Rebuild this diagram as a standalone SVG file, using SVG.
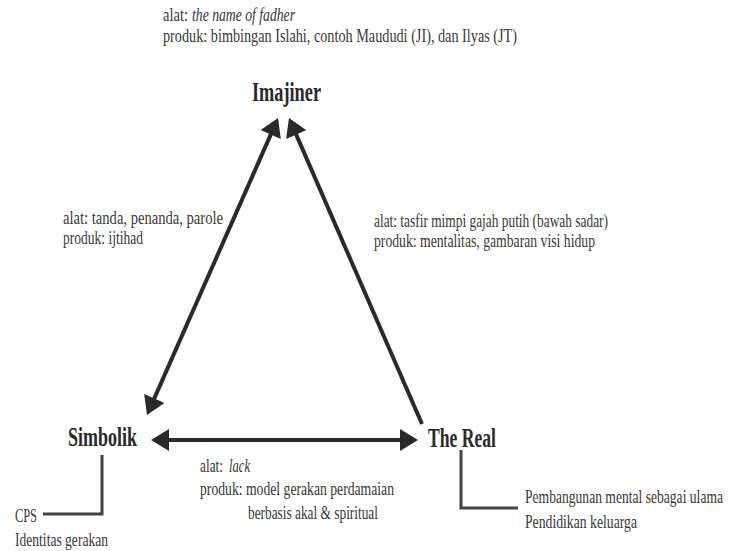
<svg xmlns="http://www.w3.org/2000/svg" width="739" height="551" viewBox="0 0 739 551">
<defs>
<style>
.t{font-family:'Liberation Serif','Times New Roman','DejaVu Serif',serif;font-size:18px;fill:#383838}
.i{font-style:italic}
.h{font-family:'Liberation Serif','Times New Roman','DejaVu Serif',serif;font-size:28px;font-weight:bold;fill:#2a2a2a}
.ar{stroke:#2a2a2a;stroke-width:4;fill:none}
.ln{stroke:#444;stroke-width:3;fill:none}
</style>
<marker id="ah" markerUnits="userSpaceOnUse" markerWidth="20" markerHeight="22" viewBox="0 0 18 22" refX="13" refY="11" orient="auto-start-reverse">
<path d="M0,0 L18,11 L0,22 z" fill="#2a2a2a"/>
</marker>
</defs>
<rect width="739" height="551" fill="#fff"/>
<g id="connectors">
<line class="ar" x1="276" y1="122.6" x2="149" y2="410.4" marker-start="url(#ah)" marker-end="url(#ah)"/>
<line class="ar" x1="291" y1="122.6" x2="422" y2="424" marker-start="url(#ah)"/>
<line class="ar" x1="156" y1="440" x2="413" y2="440" stroke-width="4.5" marker-start="url(#ah)" marker-end="url(#ah)"/>
<polyline class="ln" points="43,514 102,514 102,455"/>
<polyline class="ln" points="461,450 461,508 518,508"/>
</g>
<g id="imajiner">
<text class="h" x="252" y="101" textLength="69" lengthAdjust="spacingAndGlyphs">Imajiner</text>
<text class="t" x="163" y="21" textLength="25" lengthAdjust="spacingAndGlyphs">alat:</text>
<text class="t i" x="192" y="21" textLength="103" lengthAdjust="spacingAndGlyphs">the name of fadher</text>
<text class="t" x="163" y="42" textLength="354" lengthAdjust="spacingAndGlyphs">produk: bimbingan Islahi, contoh Maududi (JI), dan Ilyas (JT)</text>
</g>
<g id="simbolik">
<text class="h" x="68" y="446" textLength="69" lengthAdjust="spacingAndGlyphs">Simbolik</text>
<text class="t" x="15" y="522" textLength="22" lengthAdjust="spacingAndGlyphs">CPS</text>
<text class="t" x="15" y="546" textLength="93" lengthAdjust="spacingAndGlyphs">Identitas gerakan</text>
</g>
<g id="the-real">
<text class="h" x="428" y="447" textLength="68" lengthAdjust="spacingAndGlyphs">The Real</text>
<text class="t" transform="translate(525 503) scale(0.8 1)" x="0" y="0" textLength="247.5" lengthAdjust="spacingAndGlyphs">Pembangunan mental sebagai ulama</text>
<text class="t" x="525" y="528" textLength="112" lengthAdjust="spacingAndGlyphs">Pendidikan keluarga</text>
</g>
<g id="label-simbolik-imajiner">
<text class="t" x="63" y="224" textLength="160" lengthAdjust="spacingAndGlyphs">alat: tanda, penanda, parole</text>
<text class="t" x="63" y="244" textLength="80" lengthAdjust="spacingAndGlyphs">produk: ijtihad</text>
</g>
<g id="label-real-imajiner">
<text class="t" x="374" y="227" textLength="234" lengthAdjust="spacingAndGlyphs">alat: tasfir mimpi gajah putih (bawah sadar)</text>
<text class="t" x="374" y="247" textLength="221" lengthAdjust="spacingAndGlyphs">produk: mentalitas, gambaran visi hidup</text>
</g>
<g id="label-simbolik-real">
<text class="t" x="200" y="472" textLength="23" lengthAdjust="spacingAndGlyphs">alat:</text>
<text class="t i" x="229" y="472" textLength="21" lengthAdjust="spacingAndGlyphs">lack</text>
<text class="t" x="200" y="495" textLength="194" lengthAdjust="spacingAndGlyphs">produk: model gerakan perdamaian</text>
<text class="t" x="248" y="519" textLength="130" lengthAdjust="spacingAndGlyphs">berbasis akal &amp; spiritual</text>
</g>
</svg>
